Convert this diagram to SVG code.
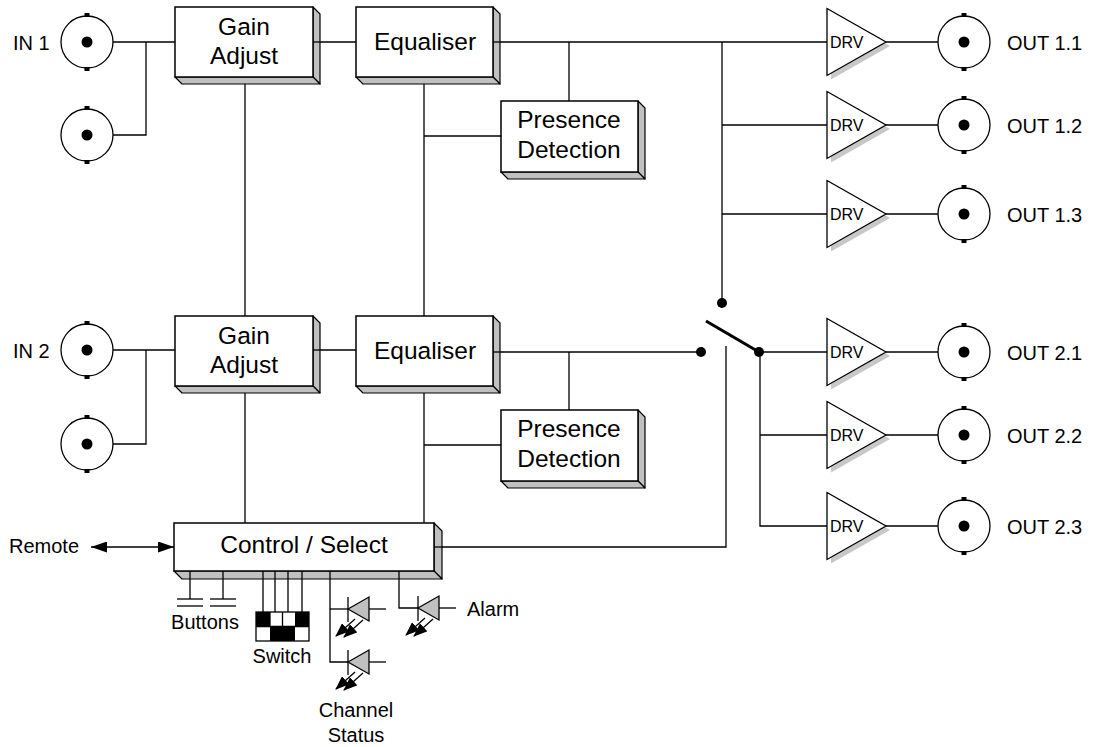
<svg xmlns="http://www.w3.org/2000/svg" xmlns:xlink="http://www.w3.org/1999/xlink" width="1095" height="747" viewBox="0 0 1095 747">
<style>
.ln{stroke:#000;stroke-width:1.3;fill:none}
.face{fill:#fff;stroke:#000;stroke-width:1.5}
.side{fill:#c0c0c0;stroke:#000;stroke-width:1.2;stroke-linejoin:round}
.t{font-family:"Liberation Sans",Arial,sans-serif;font-size:24.5px;text-anchor:middle;fill:#000}
.s{font-family:"Liberation Sans",Arial,sans-serif;font-size:20px;fill:#000}
.d{font-family:"Liberation Sans",Arial,sans-serif;font-size:16px;fill:#000}
.tri{fill:#fff;stroke:#000;stroke-width:1.3}
.sh{fill:#c8c8c8;stroke:none}
.led{fill:#c0c0c0;stroke:#000;stroke-width:1.3}
.dot{fill:#000}
</style>
<defs>
<g id="bnc">
<circle r="26" fill="#fff" stroke="#000" stroke-width="1.3"/>
<circle r="5.5" fill="#000"/>
<rect x="-2.5" y="-29" width="5" height="4" fill="#000"/>
<rect x="-2.5" y="25" width="5" height="4" fill="#000"/>
</g>
<g id="drv">
<polygon class="sh" points="4,-29.5 63,4 4,37.5"/>
<polygon class="tri" points="0,-33.5 59,0 0,33.5"/>
<text class="d" x="3" y="5.5">DRV</text>
</g>
<g id="ledsym">
<line class="ln" x1="0" y1="-12" x2="0" y2="13"/>
<polygon class="led" points="0,0 21,-12 21,12"/>
<line class="ln" x1="21" y1="0" x2="38" y2="0"/>
<line class="ln" x1="7" y1="10" x2="-12" y2="27" marker-end="url(#la)"/>
<line class="ln" x1="15" y1="11" x2="-4" y2="28" marker-end="url(#la)"/>
</g>
<marker id="la" viewBox="0 0 14 11" refX="13" refY="5.5" markerWidth="14" markerHeight="11" markerUnits="userSpaceOnUse" orient="auto">
<path d="M0,0 L14,5.5 L0,11 z" fill="#000"/>
</marker>
<marker id="ar" viewBox="0 0 16 11" refX="16" refY="5.5" markerWidth="16" markerHeight="11" markerUnits="userSpaceOnUse" orient="auto-start-reverse">
<path d="M0,0 L16,5.5 L0,11 z" fill="#000"/>
</marker>
</defs>

<g id="connectors">
<polyline class="ln" points="113,42 175,42"/>
<polyline class="ln" points="113,135 146,135 146,42"/>
<line class="ln" x1="313" y1="42" x2="356" y2="42"/>
<line class="ln" x1="493" y1="42" x2="827" y2="42"/>
<line class="ln" x1="569" y1="42" x2="569" y2="101"/>
<line class="ln" x1="424" y1="136" x2="501" y2="136"/>
<line class="ln" x1="245" y1="77" x2="245" y2="316"/>
<line class="ln" x1="424" y1="77" x2="424" y2="316"/>
<line class="ln" x1="722" y1="42" x2="722" y2="303"/>
<line class="ln" x1="722" y1="125" x2="827" y2="125"/>
<line class="ln" x1="722" y1="214" x2="827" y2="214"/>
<polyline class="ln" points="113,350 175,350"/>
<polyline class="ln" points="113,444 146,444 146,350"/>
<line class="ln" x1="313" y1="350" x2="356" y2="350"/>
<line class="ln" x1="493" y1="352" x2="701" y2="352"/>
<line class="ln" x1="569" y1="352" x2="569" y2="410"/>
<line class="ln" x1="424" y1="445" x2="501" y2="445"/>
<line class="ln" x1="245" y1="386" x2="245" y2="523"/>
<line class="ln" x1="424" y1="386" x2="424" y2="523"/>
<line class="ln" x1="759" y1="352" x2="827" y2="352"/>
<polyline class="ln" points="760,352 760,526 827,526"/>
<line class="ln" x1="760" y1="435" x2="827" y2="435"/>
<polyline class="ln" points="434,547 726,547 726,346"/>
<line class="ln" x1="886" y1="42" x2="938" y2="42"/>
<line class="ln" x1="886" y1="125" x2="938" y2="125"/>
<line class="ln" x1="886" y1="214" x2="938" y2="214"/>
<line class="ln" x1="886" y1="352" x2="938" y2="352"/>
<line class="ln" x1="886" y1="435" x2="938" y2="435"/>
<line class="ln" x1="886" y1="526" x2="938" y2="526"/>
<line class="ln" x1="91" y1="547" x2="174" y2="547" marker-start="url(#ar)" marker-end="url(#ar)"/>
<line class="ln" x1="190" y1="571" x2="190" y2="599"/>
<line class="ln" x1="223" y1="571" x2="223" y2="599"/>
<line class="ln" x1="263" y1="571" x2="263" y2="612"/>
<line class="ln" x1="275" y1="571" x2="275" y2="612"/>
<line class="ln" x1="288" y1="571" x2="288" y2="612"/>
<line class="ln" x1="302" y1="571" x2="302" y2="612"/>
<polyline class="ln" points="330,571 330,662 348,662"/>
<line class="ln" x1="330" y1="609" x2="348" y2="609"/>
<polyline class="ln" points="399,571 399,608 418,608"/>
</g>

<g id="in1">
<text class="s" x="13" y="50">IN 1</text>
<use xlink:href="#bnc" transform="translate(87,42)"/>
</g>
<g id="in1b"><use xlink:href="#bnc" transform="translate(87,135)"/></g>
<g id="in2">
<text class="s" x="13" y="358">IN 2</text>
<use xlink:href="#bnc" transform="translate(87,350)"/>
</g>
<g id="in2b"><use xlink:href="#bnc" transform="translate(87,444)"/></g>

<g id="gain1">
<polygon class="side" points="313,7 320,14 320,84 313,77"/>
<polygon class="side" points="175,77 313,77 320,84 182,84"/>
<rect class="face" x="175" y="7" width="138" height="70"/>
<line class="ln" x1="313" y1="42" x2="320" y2="42"/>
<text class="t" x="244" y="35">Gain</text>
<text class="t" x="244" y="64">Adjust</text>
</g>
<g id="eq1">
<polygon class="side" points="493,7 500,14 500,84 493,77"/>
<polygon class="side" points="356,77 493,77 500,84 363,84"/>
<rect class="face" x="356" y="7" width="137" height="70"/>
<line class="ln" x1="493" y1="42" x2="500" y2="42"/>
<text class="t" x="425" y="50">Equaliser</text>
</g>
<g id="pres1">
<polygon class="side" points="638,101 645,108 645,179 638,172"/>
<polygon class="side" points="501,172 638,172 645,179 508,179"/>
<rect class="face" x="501" y="101" width="137" height="71"/>
<text class="t" x="569" y="128">Presence</text>
<text class="t" x="569" y="158">Detection</text>
</g>
<g id="gain2">
<polygon class="side" points="313,316 320,323 320,393 313,386"/>
<polygon class="side" points="175,386 313,386 320,393 182,393"/>
<rect class="face" x="175" y="316" width="138" height="70"/>
<line class="ln" x1="313" y1="350" x2="320" y2="350"/>
<text class="t" x="244" y="344">Gain</text>
<text class="t" x="244" y="373">Adjust</text>
</g>
<g id="eq2">
<polygon class="side" points="493,316 500,323 500,393 493,386"/>
<polygon class="side" points="356,386 493,386 500,393 363,393"/>
<rect class="face" x="356" y="316" width="137" height="70"/>
<line class="ln" x1="493" y1="352" x2="500" y2="352"/>
<text class="t" x="425" y="359">Equaliser</text>
</g>
<g id="pres2">
<polygon class="side" points="638,410 645,417 645,488 638,481"/>
<polygon class="side" points="501,481 638,481 645,488 508,488"/>
<rect class="face" x="501" y="410" width="137" height="71"/>
<text class="t" x="569" y="437">Presence</text>
<text class="t" x="569" y="467">Detection</text>
</g>
<g id="control">
<polygon class="side" points="434,523 442,531 442,579 434,571"/>
<polygon class="side" points="174,571 434,571 442,579 182,579"/>
<rect class="face" x="174" y="523" width="260" height="48"/>
<line class="ln" x1="434" y1="547" x2="442" y2="547"/>
<line class="ln" x1="190" y1="571" x2="190" y2="579"/>
<line class="ln" x1="223" y1="571" x2="223" y2="579"/>
<line class="ln" x1="263" y1="571" x2="263" y2="579"/>
<line class="ln" x1="275" y1="571" x2="275" y2="579"/>
<line class="ln" x1="288" y1="571" x2="288" y2="579"/>
<line class="ln" x1="302" y1="571" x2="302" y2="579"/>
<line class="ln" x1="330" y1="571" x2="330" y2="579"/>
<line class="ln" x1="399" y1="571" x2="399" y2="579"/>
<text class="t" x="304" y="553">Control / Select</text>
</g>
<g id="remote"><text class="s" x="9" y="553">Remote</text></g>

<g id="switch">
<circle class="dot" cx="722" cy="303" r="5"/>
<circle class="dot" cx="701" cy="352" r="5"/>
<circle class="dot" cx="759" cy="352" r="5"/>
<line x1="706" y1="321" x2="759" y2="352" stroke="#000" stroke-width="3"/>
</g>

<g id="drv11"><use xlink:href="#drv" transform="translate(827,42)"/></g>
<g id="drv12"><use xlink:href="#drv" transform="translate(827,125)"/></g>
<g id="drv13"><use xlink:href="#drv" transform="translate(827,214)"/></g>
<g id="drv21"><use xlink:href="#drv" transform="translate(827,352)"/></g>
<g id="drv22"><use xlink:href="#drv" transform="translate(827,435)"/></g>
<g id="drv23"><use xlink:href="#drv" transform="translate(827,526)"/></g>

<g id="out11"><use xlink:href="#bnc" transform="translate(964,42)"/><text class="s" x="1007" y="50">OUT 1.1</text></g>
<g id="out12"><use xlink:href="#bnc" transform="translate(964,125)"/><text class="s" x="1007" y="133">OUT 1.2</text></g>
<g id="out13"><use xlink:href="#bnc" transform="translate(964,214)"/><text class="s" x="1007" y="222">OUT 1.3</text></g>
<g id="out21"><use xlink:href="#bnc" transform="translate(964,352)"/><text class="s" x="1007" y="360">OUT 2.1</text></g>
<g id="out22"><use xlink:href="#bnc" transform="translate(964,435)"/><text class="s" x="1007" y="443">OUT 2.2</text></g>
<g id="out23"><use xlink:href="#bnc" transform="translate(964,526)"/><text class="s" x="1007" y="534">OUT 2.3</text></g>

<g id="buttons">
<line class="ln" x1="177" y1="599" x2="203" y2="599"/>
<line class="ln" x1="177" y1="606" x2="203" y2="606"/>
<line class="ln" x1="210" y1="599" x2="236" y2="599"/>
<line class="ln" x1="210" y1="606" x2="236" y2="606"/>
<text class="s" x="205" y="629" text-anchor="middle">Buttons</text>
</g>
<g id="dipswitch">
<rect x="256" y="612" width="53" height="29" fill="#fff" stroke="#000" stroke-width="1.3"/>
<rect x="256" y="612" width="14" height="14.5" fill="#000"/>
<rect x="295" y="612" width="14" height="14.5" fill="#000"/>
<rect x="270" y="626.5" width="25" height="14.5" fill="#000"/>
<line class="ln" x1="270" y1="612" x2="270" y2="626.5"/>
<line class="ln" x1="282.5" y1="612" x2="282.5" y2="626.5"/>
<line class="ln" x1="256" y1="626.5" x2="309" y2="626.5"/>
<text class="s" x="282" y="663" text-anchor="middle">Switch</text>
</g>
<g id="chstatus">
<use xlink:href="#ledsym" transform="translate(348,609)"/>
<use xlink:href="#ledsym" transform="translate(348,662)"/>
<text class="s" x="356" y="717" text-anchor="middle">Channel</text>
<text class="s" x="356" y="742" text-anchor="middle">Status</text>
</g>
<g id="alarm">
<use xlink:href="#ledsym" transform="translate(418,608)"/>
<text class="s" x="467" y="616">Alarm</text>
</g>
</svg>
